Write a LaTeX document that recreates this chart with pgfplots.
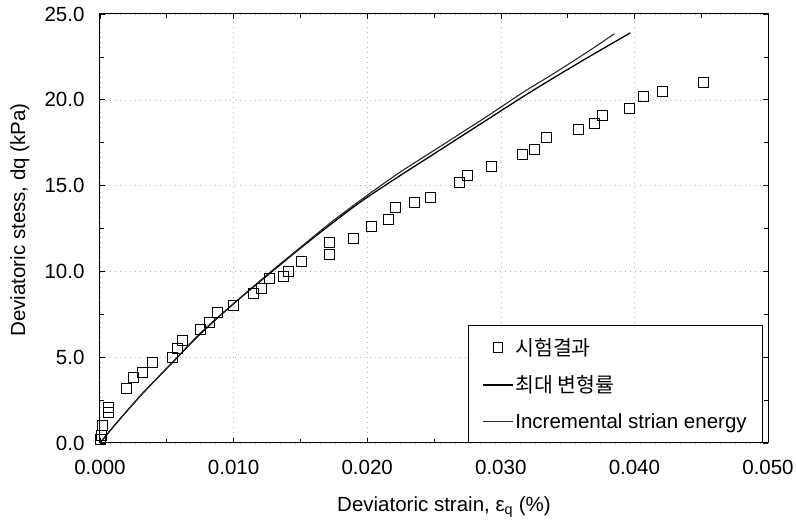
\documentclass[border=0pt]{standalone}
\usepackage{fontspec}
\setmainfont{Liberation Sans}
\newfontfamily\kr{Noto Sans CJK KR}
\usepackage{pgfplots}
\pgfplotsset{compat=1.18}
\pgfplotsset{
  lineleg/.style={legend image code/.code={\draw[##1] (0pt,0pt) -- (30pt,0pt);}},
  markleg/.style={legend image code/.code={\draw[mark repeat=2,mark phase=2,##1,mark size=4.6pt] plot coordinates {(0pt,0pt)(15pt,0pt)(30pt,0pt)};}},
}
\begin{document}
\begin{tikzpicture}
\begin{axis}[
 scale only axis, width=668pt, height=429pt,
 xmin=0, xmax=0.05, ymin=0, ymax=25,
 xtick={0,0.01,0.02,0.03,0.04,0.05}, ytick={0,5,10,15,20,25},
 minor xtick={0.005,0.015,0.025,0.035,0.045}, minor ytick={2.5,7.5,12.5,17.5,22.5},
 scaled x ticks=false, scaled y ticks=false,
 /pgf/number format/assume math mode=true,
 xticklabel style={/pgf/number format/fixed, /pgf/number format/fixed zerofill, /pgf/number format/precision=3, yshift=-14pt},
 yticklabel style={/pgf/number format/fixed, /pgf/number format/fixed zerofill, /pgf/number format/precision=1, xshift=-12pt},
 ticklabel style={font=\fontsize{20.5}{24}\selectfont},
 tick align=inside,
 major tick length=5pt, minor tick length=4pt,
 tick style={black, line width=0.6pt},
 axis line style={line width=1pt},
 grid=major, major grid style={gray!60, dash pattern=on 1pt off 4pt},
 xlabel={Deviatoric strain, ε\textsubscript{q} (\%)},
 ylabel={Deviatoric stess, dq (kPa)},
 label style={font=\fontsize{20.5}{24}\selectfont},
 xlabel style={at={(axis description cs:0.515,0)}, anchor=center, yshift=-64pt},
 ylabel style={at={(axis description cs:-0.12,0.52)}, anchor=center},
 clip=false,
 legend cell align=left,
 legend style={at={(1,0)}, anchor=south east, xshift=-5pt, draw=black, line width=0.6pt,
   font=\fontsize{20.5}{24}\selectfont, row sep=15pt, inner xsep=14pt, inner ysep=11pt},
]
\addplot[only marks, mark=square, mark size=5pt, black, line width=0.9pt, markleg]
coordinates {
(0.0000,0.2)(0.0001,0.45)(0.0002,1.05)(0.0006,1.8)(0.0006,2.1)
(0.0020,3.2)(0.0025,3.8)(0.0032,4.1)(0.0039,4.7)(0.0054,5.0)(0.0058,5.5)(0.0062,6.0)
(0.0075,6.6)(0.0082,7.05)(0.0088,7.6)(0.0100,8.0)(0.0115,8.7)(0.0121,9.0)(0.0127,9.6)
(0.0137,9.7)(0.0141,10.0)(0.0151,10.6)(0.0172,11.0)(0.0172,11.7)(0.0190,11.9)
(0.0203,12.6)(0.0216,13.0)(0.0221,13.7)(0.0235,14.0)(0.0247,14.3)(0.0269,15.2)
(0.0275,15.6)(0.0293,16.1)(0.0316,16.8)(0.0325,17.1)(0.0334,17.8)(0.0358,18.3)
(0.0370,18.6)(0.0376,19.1)(0.0396,19.5)(0.0407,20.2)(0.0421,20.5)(0.0452,21.0)
};
\addlegendentry{{\kr 시험결과}}
\addplot[black, line width=1.3pt, smooth, lineleg]
coordinates {
(0,0)(0.001,0.95)(0.002,1.85)(0.0032,2.9)(0.0045,3.95)(0.0058,5.0)(0.0075,6.35)(0.00975,7.95)(0.0125,9.75)
(0.015,11.35)(0.0172,12.7)(0.0195,14.05)(0.0223,15.5)(0.0245,16.6)(0.0268,17.75)(0.029,18.85)(0.0317,20.2)
(0.034,21.3)(0.0367,22.55)(0.0397,23.9)
};
\addlegendentry{{\kr 최대 변형률}}
\addplot[black!85, line width=1.1pt, smooth, lineleg]
coordinates {
(0,0)(0.001,0.95)(0.002,1.85)(0.0032,2.9)(0.0045,3.95)(0.0058,5.0)(0.0075,6.4)(0.00975,7.95)(0.0125,9.8)
(0.015,11.4)(0.0172,12.8)(0.0195,14.15)(0.0223,15.7)(0.0245,16.8)(0.0268,17.95)(0.029,19.05)(0.0317,20.45)
(0.034,21.55)(0.0367,22.9)(0.0385,23.85)
};
\addlegendentry{Incremental strian energy}
\end{axis}
\coordinate (bbl) at ([shift={(-100pt,-81pt)}]current axis.south west);
\coordinate (btr) at ([shift={(28pt,14pt)}]current axis.north east);
\pgfresetboundingbox
\path[use as bounding box] (bbl) rectangle (btr);
\end{tikzpicture}
\end{document}
